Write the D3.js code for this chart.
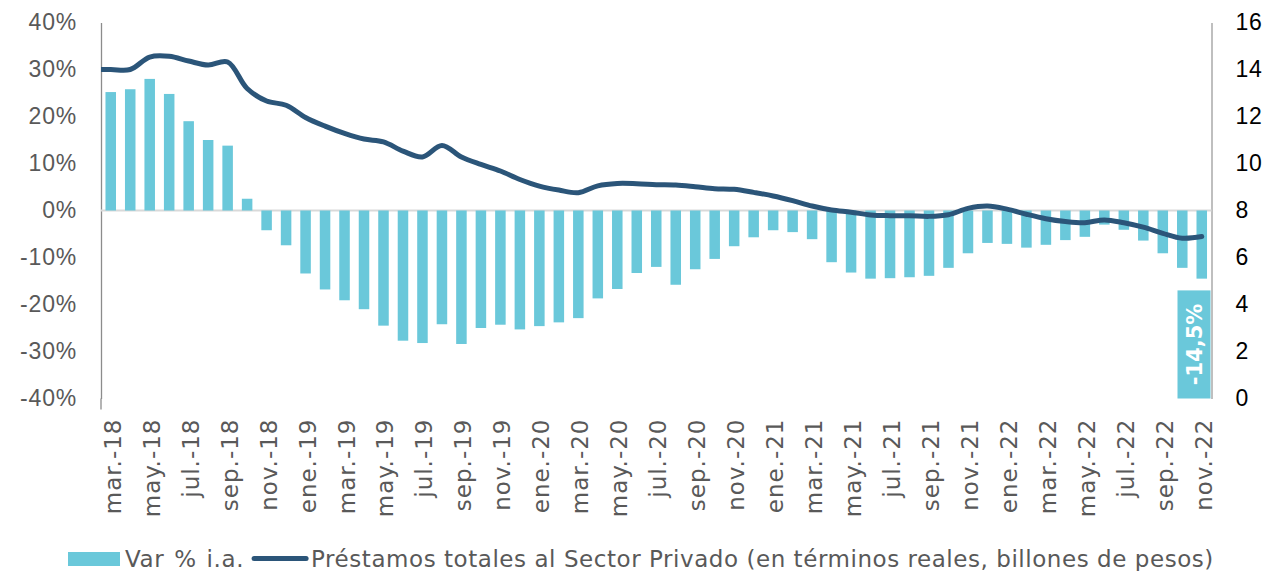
<!DOCTYPE html>
<html>
<head>
<meta charset="utf-8">
<script src="https://cdn.jsdelivr.net/npm/d3@7"></script>
<style>
  body { margin: 0; background: #fff; }
  svg { display: block; font-family: "DejaVu Sans", Verdana, sans-serif; }
</style>
</head>
<body>
<div id="chart"></div>
<script>
////////////////////////////////////////////////////////////
//////////////////////// Data //////////////////////////////
////////////////////////////////////////////////////////////

var months = [
	"mar.-18","abr.-18","may.-18","jun.-18","jul.-18","ago.-18","sep.-18","oct.-18","nov.-18","dic.-18",
	"ene.-19","feb.-19","mar.-19","abr.-19","may.-19","jun.-19","jul.-19","ago.-19","sep.-19","oct.-19","nov.-19","dic.-19",
	"ene.-20","feb.-20","mar.-20","abr.-20","may.-20","jun.-20","jul.-20","ago.-20","sep.-20","oct.-20","nov.-20","dic.-20",
	"ene.-21","feb.-21","mar.-21","abr.-21","may.-21","jun.-21","jul.-21","ago.-21","sep.-21","oct.-21","nov.-21","dic.-21",
	"ene.-22","feb.-22","mar.-22","abr.-22","may.-22","jun.-22","jul.-22","ago.-22","sep.-22","oct.-22","nov.-22"
];

//Var % i.a. (percent)
var varIA = [
	25.2, 25.8, 28.0, 24.8, 19.0, 15.0, 13.8, 2.5, -4.2, -7.4,
	-13.4, -16.8, -19.1, -21.0, -24.5, -27.7, -28.2, -24.2, -28.4, -25.0, -24.3, -25.3,
	-24.6, -23.8, -22.9, -18.7, -16.7, -13.3, -12.0, -15.8, -12.5, -10.3, -7.6, -5.7,
	-4.2, -4.6, -6.1, -11.0, -13.2, -14.5, -14.4, -14.2, -13.9, -12.2, -9.1, -6.9,
	-7.1, -7.9, -7.3, -6.3, -5.6, -3.0, -4.1, -6.4, -9.1, -12.2, -14.5
];

//Prestamos totales (billones de pesos, reales)
var prestamos = [
	14.0, 14.0, 14.53, 14.56, 14.36, 14.19, 14.32, 13.19, 12.66, 12.48,
	11.96, 11.59, 11.28, 11.04, 10.92, 10.53, 10.28, 10.77, 10.28, 9.96, 9.68, 9.32,
	9.04, 8.87, 8.76, 9.05, 9.15, 9.14, 9.10, 9.08, 9.01, 8.93, 8.90, 8.77,
	8.62, 8.42, 8.19, 8.02, 7.93, 7.81, 7.78, 7.78, 7.75, 7.82, 8.09, 8.19,
	8.06, 7.84, 7.65, 7.53, 7.48, 7.60, 7.48, 7.29, 7.03, 6.82, 6.89
];
//previous month (feb.-18), only visible as the segment entering from the axis
var prestamosPrev = 14.0;

var leftTicks = [-40, -30, -20, -10, 0, 10, 20, 30, 40];
var rightTicks = [0, 2, 4, 6, 8, 10, 12, 14, 16];
var legendLabels = ["Var % i.a.", "Préstamos totales al Sector Privado (en términos reales, billones de pesos)"];

////////////////////////////////////////////////////////////
//////////////////////// Set-up ////////////////////////////
////////////////////////////////////////////////////////////

var width = 1269,
	height = 571,
	plot = {left: 101, right: 1211.5, top: 22.5, bottom: 398.5};

var barColor = "#6ac8da",
	lineColor = "#2b5579",
	textGrey = "#595959";

var x = d3.scaleBand()
	.domain(months)
	.range([plot.left, plot.right])
	.paddingInner(0.46)
	.paddingOuter(0.23);

var yL = d3.scaleLinear().domain([-40, 40]).range([plot.bottom, plot.top]);
var yR = d3.scaleLinear().domain([0, 16]).range([plot.bottom, plot.top]);

var svg = d3.select("#chart").append("svg")
	.attr("width", width)
	.attr("height", height);

svg.append("clipPath").attr("id", "plotClip")
	.append("rect")
	.attr("x", plot.left).attr("y", 0)
	.attr("width", plot.right - plot.left).attr("height", height);

////////////////////////////////////////////////////////////
//////////////////////// Axes //////////////////////////////
////////////////////////////////////////////////////////////

var yAxisL = d3.axisLeft(yL)
	.tickValues(leftTicks)
	.tickSize(0)
	.tickPadding(24)
	.tickFormat(function(d) { return d + "%"; });

var gL = svg.append("g")
	.attr("transform", "translate(" + plot.left + ",0)")
	.call(yAxisL);
gL.select(".domain").attr("stroke", "#8c8c8c").attr("stroke-width", 1.3);
gL.selectAll("text").attr("fill", textGrey)
	.style("font-size", "23px").style("letter-spacing", "0.8px").style("font-family", "inherit");
//small extension below the axis (category axis crossing)
gL.append("line")
	.attr("y1", plot.bottom).attr("y2", plot.bottom + 11)
	.attr("stroke", "#8c8c8c").attr("stroke-width", 1.3);

var yAxisR = d3.axisRight(yR)
	.tickValues(rightTicks)
	.tickSize(0)
	.tickPadding(24);

var gR = svg.append("g")
	.attr("transform", "translate(" + plot.right + ",0)")
	.call(yAxisR);
gR.select(".domain").attr("stroke", "#bfbfbf").attr("stroke-width", 2);
gR.selectAll("text").attr("fill", "#000")
	.style("font-size", "23px").style("letter-spacing", "0.8px").style("font-family", "inherit");

//zero line
svg.append("line")
	.attr("x1", plot.left).attr("x2", plot.right)
	.attr("y1", yL(0)).attr("y2", yL(0))
	.attr("stroke", "#d9d9d9").attr("stroke-width", 2);

//x labels (every other month)
svg.append("g").selectAll("text")
	.data(months.filter(function(d, i) { return i % 2 === 0; }))
	.enter().append("text")
	.attr("transform", function(d) {
		return "translate(" + (x(d) + x.bandwidth()/2 + 10) + "," + (plot.bottom + 20) + ") rotate(-90)";
	})
	.attr("text-anchor", "end")
	.attr("fill", textGrey)
	.style("font-size", "23px")
	.style("letter-spacing", "1px")
	.text(function(d) { return d; });

////////////////////////////////////////////////////////////
//////////////////////// Marks /////////////////////////////
////////////////////////////////////////////////////////////

svg.append("g").selectAll("rect")
	.data(varIA)
	.enter().append("rect")
	.attr("x", function(d, i) { return x(months[i]); })
	.attr("width", x.bandwidth())
	.attr("y", function(d) { return yL(Math.max(0, d)); })
	.attr("height", function(d) { return Math.abs(yL(d) - yL(0)); })
	.attr("fill", barColor);

var xMid = function(i) { return x(months[0]) + x.bandwidth()/2 + i * x.step(); };

var line = d3.line()
	.x(function(d, i) { return xMid(i - 1); })
	.y(function(d) { return yR(d); })
	.curve(d3.curveCatmullRom.alpha(0.5));

svg.append("path")
	.datum([prestamosPrev].concat(prestamos))
	.attr("d", line)
	.attr("clip-path", "url(#plotClip)")
	.attr("fill", "none")
	.attr("stroke", lineColor)
	.attr("stroke-width", 5)
	.attr("stroke-linecap", "round")
	.attr("stroke-linejoin", "round");

//label for the last value
var lastVal = varIA[varIA.length - 1],
	boxW = 34,
	boxTop = yL(-17),
	boxBottom = plot.bottom;

svg.append("rect")
	.attr("x", plot.right - boxW)
	.attr("y", boxTop)
	.attr("width", boxW - 1)
	.attr("height", boxBottom - boxTop)
	.attr("fill", barColor);

svg.append("text")
	.attr("transform", "translate(" + (plot.right - boxW/2) + "," + ((boxTop + boxBottom)/2) + ") rotate(-90)")
	.attr("text-anchor", "middle")
	.attr("dy", "0.36em")
	.attr("fill", "#fff")
	.style("font-size", "21px")
	.style("font-weight", "bold")
	.text(lastVal.toFixed(1).replace(".", ",") + "%");

////////////////////////////////////////////////////////////
//////////////////////// Legend ////////////////////////////
////////////////////////////////////////////////////////////

var legend = svg.append("g").attr("transform", "translate(68,559)");

legend.append("rect")
	.attr("x", 0).attr("y", -7)
	.attr("width", 52).attr("height", 14)
	.attr("fill", barColor);

var t1 = legend.append("text")
	.attr("x", 57).attr("y", 8)
	.attr("fill", textGrey)
	.style("font-size", "23px")
	.style("letter-spacing", "0.6px")
	.style("word-spacing", "2px")
	.text(legendLabels[0]);

var x2 = 57 + t1.node().getComputedTextLength() + 8;

legend.append("line")
	.attr("x1", x2 + 2).attr("x2", x2 + 54)
	.attr("y1", -0.5).attr("y2", -0.5)
	.attr("stroke", lineColor)
	.attr("stroke-width", 5)
	.attr("stroke-linecap", "round");

legend.append("text")
	.attr("x", x2 + 59).attr("y", 8)
	.attr("fill", textGrey)
	.style("font-size", "23px")
	.style("letter-spacing", "0.55px")
	.text(legendLabels[1]);
</script>
</body>
</html>
